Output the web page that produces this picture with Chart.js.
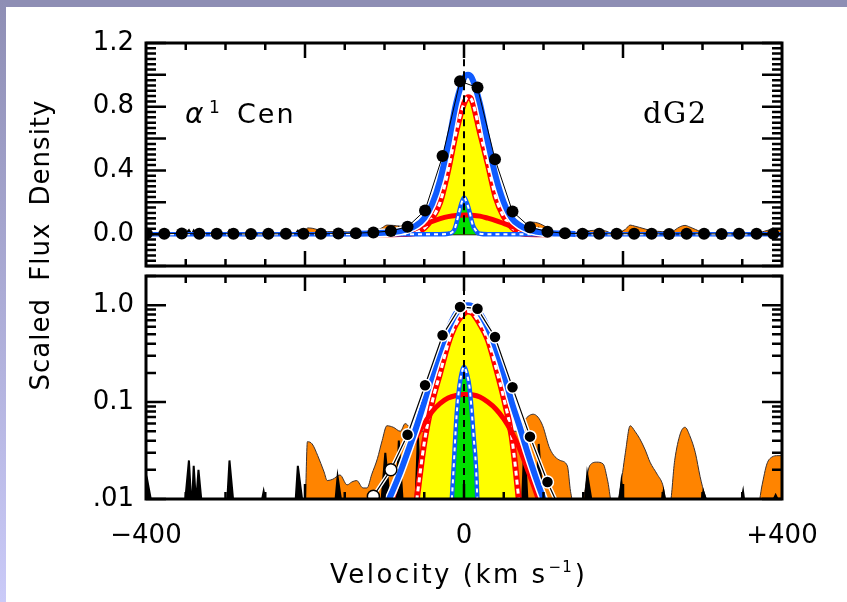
<!DOCTYPE html>
<html>
<head>
<meta charset="utf-8">
<script src="https://cdn.jsdelivr.net/npm/chart.js@4.4.0/dist/chart.umd.min.js"></script>
<style>
  html, body { margin: 0; padding: 0; }
  body { width: 847px; height: 602px; position: relative; overflow: hidden; background: #fff; }
  #topStrip { position: absolute; left: 0; top: 0; width: 847px; height: 7px; background: #8e8eb4; }
  #leftStrip { position: absolute; left: 0; top: 0; width: 6px; height: 602px; background: linear-gradient(#8e8eb4, #cacaf8); }
  canvas { position: absolute; left: 0; }
  #topPanel { top: 0; }
  #bottomPanel { top: 272px; }
  #yTitle {
    position: absolute; left: -120px; top: 230px; width: 320px; height: 30px;
    line-height: 30px; text-align: center; transform: rotate(-90deg);
    font: 26px "DejaVu Sans"; letter-spacing: 1px; word-spacing: 8px; color: #000;
  }
</style>
</head>
<body>
<div id="topStrip"></div>
<div id="leftStrip"></div>
<canvas id="topPanel" width="847" height="272"></canvas>
<canvas id="bottomPanel" width="847" height="330"></canvas>
<div id="yTitle">Scaled Flux Density</div>
<script>
(() => {
  'use strict';

  // axes
  const velocityTicks = [-400, 0, 400];
  const velocityTickLabels = ['\u2212400', '0', '+400'];
  const linearRange = [-0.2, 1.2];
  const linearTicks = [0, 0.4, 0.8, 1.2];
  const linearTickLabels = ['0.0', '0.4', '0.8', '1.2'];
  const logRange = [0.01, 2];
  const logTicks = [0.01, 0.1, 1];
  const logTickLabels = ['.01', '0.1', '1.0'];
  const restVelocity = 0;

  // binned observed profile (black dots)
  const binVelocity = [-399, -377, -355, -333, -311, -290, -268, -246, -224, -202, -180, -158, -136, -114, -92, -71, -49, -27, -5, 17,
    39, 61, 83, 105, 127, 149, 170, 192, 214, 236, 258, 280, 302, 324, 346, 368, 389];
  const binFlux = [0.004, 0.003, 0.004, 0.002, 0.003, 0.002, 0.001, 0.002, 0.002, 0.003, 0.002, 0.004, 0.006, 0.0107, 0.020, 0.046, 0.149, 0.49, 0.96, 0.92,
    0.47, 0.142, 0.044, 0.015, 0.006, 0.003, 0.002, 0.002, 0.003, 0.002, 0.001, 0.002, 0.002, 0.001, 0.002, 0.002, 0.003];
  const hollowBins = [13, 14];

  // model: total (blue), core (yellow), broad (red)
  const modelVelocity = [-140, -120, -110, -100, -90, -80, -70, -60, -50, -40, -30, -20, -10, 0, 5, 10, 20, 30, 40,
    50, 60, 70, 80, 90, 100, 110, 120, 140];
  const totalFlux = [0.001, 0.004, 0.006, 0.008, 0.012, 0.019, 0.032, 0.055, 0.1, 0.19, 0.34, 0.56, 0.82, 0.98, 1.0, 0.98, 0.82, 0.58, 0.36,
    0.2, 0.1, 0.056, 0.03, 0.017, 0.01, 0.006, 0.004, 0.001];
  const coreFlux = [0, 0, 0, 0, 0, 0.0005, 0.002, 0.009, 0.038, 0.1, 0.2, 0.4, 0.64, 0.82, 0.86, 0.84, 0.64, 0.44, 0.23,
    0.11, 0.044, 0.008, 0.001, 0, 0, 0, 0, 0];
  const broadFlux = [0.001, 0.003, 0.004, 0.006, 0.01, 0.018, 0.029, 0.044, 0.06, 0.08, 0.097, 0.11, 0.117, 0.12, 0.12, 0.119, 0.113, 0.1, 0.085,
    0.067, 0.049, 0.033, 0.02, 0.012, 0.007, 0.004, 0.003, 0.001];

  // instrumental profile (green)
  const lsfVelocity = [-400, -30, -20, -15, -12, -10, -7, -4, 0, 4, 7, 10, 12, 15, 17, 20, 30, 400];
  const lsfFlux = [0, 0, 0.003, 0.011, 0.03, 0.06, 0.12, 0.18, 0.23, 0.19, 0.14, 0.075, 0.045, 0.022, 0.009, 0.003, 0, 0];

  // comparison spectrum (orange)
  const compVelocity = [-400, -205, -200, -197, -191, -184, -176, -172, -165, -156, -147, -141, -135, -127, -122, -116, -109, -103, -97, -89,
    -80, -74, -68, -55, -40, 0, 40, 60, 68, 74, 87, 93, 99, 108, 121, 130, 134, 138, 146, 150,
    158, 167, 175, 181, 186, 192, 196, 203, 209, 215, 221, 228, 234, 243, 250, 255, 259, 265, 272, 278,
    284, 291, 297, 303, 308, 365, 369, 375, 381, 387, 395, 400];
  const compFlux = [0, 0, 0.009, 0.039, 0.037, 0.028, 0.019, 0.0155, 0.016, 0.0177, 0.014, 0.015, 0.0155, 0.013, 0.013, 0.018, 0.026, 0.04, 0.057, 0.055,
    0.05, 0.06, 0.055, 0.05, 0.05, 0.06, 0.05, 0.05, 0.05, 0.062, 0.075, 0.07, 0.057, 0.033, 0.025, 0.022, 0.012, 0, 0, 0.01,
    0.022, 0.024, 0.023, 0.015, 0, 0, 0.012, 0.03, 0.057, 0.05, 0.042, 0.032, 0.024, 0.018, 0.014, 0, 0, 0.025, 0.047, 0.055,
    0.045, 0.03, 0.017, 0.011, 0, 0, 0.008, 0.014, 0.023, 0.027, 0.028, 0.028];

  // residual spikes (black)
  const spikeStart = [-401, -351, -342, -336, -298, -255, -212, -162, -104, -85, -61, 73, 91, 152, 195, 248, 298, 348, 387];
  const spikePeak = [-398, -346, -340, -334, -295, -252, -209, -159, -99, -82, -58, 76, 94, 155, 198, 251, 301, 351, 392];
  const spikeEnd = [-393, -343, -337, -330, -290, -249, -203, -154, -93, -77, -54, 80, 99, 161, 201, 254, 306, 353, 397];
  const spikeFlux = [0.015, 0.025, 0.022, 0.02, 0.025, 0.012, 0.022, 0.017, 0.03, 0.04, 0.044, 0.04, 0.037, 0.018, 0.015, 0.012, 0.012, 0.012, 0.011];

  const BLUE = '#0f5bff';
  const logFloor = 0.009;

  Chart.defaults.font.family = '"DejaVu Sans"';
  Chart.defaults.color = '#000';

  const toPoints = (xs, ys, isLog) => xs.map((x, i) => ({x: x, y: isLog && ys[i] <= 0 ? logFloor : ys[i]}));
  const spikePoints = isLog => spikeStart.flatMap((s, i) => [
    {x: s, y: isLog ? logFloor : 0},
    {x: spikePeak[i], y: spikeFlux[i]},
    {x: spikeEnd[i], y: isLog ? logFloor : 0}
  ]);

  function panelDatasets(isLog, yRange) {
    const base = isLog ? 'start' : 'origin';
    const curve = {pointRadius: 0, fill: false, cubicInterpolationMode: 'monotone'};
    const sets = [
      {
        data: toPoints(binVelocity, binFlux, isLog), borderColor: '#000', borderWidth: isLog ? 1.2 : 1,
        tension: 0, fill: false, pointRadius: 6,
        pointBackgroundColor: c => (isLog && hollowBins.includes(c.dataIndex)) ? '#fff' : '#000',
        pointBorderColor: c => isLog ? (hollowBins.includes(c.dataIndex) ? '#000' : '#fff') : '#000',
        pointBorderWidth: isLog ? 1.5 : 0, order: 1
      },
      {
        data: [{x: restVelocity, y: isLog ? yRange[0] : 0}, {x: restVelocity, y: yRange[1]}],
        borderColor: '#000', borderWidth: 2, borderDash: [7, 5], pointRadius: 0, tension: 0, order: 3
      },
      Object.assign({}, curve, {data: toPoints(modelVelocity, totalFlux, isLog), borderColor: BLUE, borderWidth: 6, order: 4}),
      Object.assign({}, curve, {data: toPoints(modelVelocity, totalFlux, isLog), borderColor: '#fff', borderWidth: 9, order: 5}),
      Object.assign({}, curve, {data: toPoints(lsfVelocity, lsfFlux, isLog), borderColor: '#fff', borderWidth: 2, borderDash: [4, 4], order: 6}),
      Object.assign({}, curve, {data: toPoints(lsfVelocity, lsfFlux, isLog), borderColor: BLUE, borderWidth: 4.5, order: 7}),
      Object.assign({}, curve, {data: toPoints(modelVelocity, broadFlux, isLog), borderColor: '#ff0000', borderWidth: 5, order: 8}),
      Object.assign({}, curve, {data: toPoints(lsfVelocity, lsfFlux, isLog), borderWidth: 0, fill: base, backgroundColor: '#00e000', order: 9}),
      Object.assign({}, curve, {data: toPoints(modelVelocity, coreFlux, isLog), borderColor: '#fff', borderWidth: 3, borderDash: [5, 4], order: 10}),
      Object.assign({}, curve, {data: toPoints(modelVelocity, coreFlux, isLog), borderColor: '#ff0000', borderWidth: 6,
        fill: base, backgroundColor: '#ffff00', order: 11}),
      {data: spikePoints(isLog), borderColor: '#000', borderWidth: 2, backgroundColor: '#000', fill: base, pointRadius: 0, tension: 0, order: 12},
      Object.assign({}, curve, {data: toPoints(compVelocity, compFlux, isLog), borderColor: '#3a3030', borderWidth: 1,
        fill: base, backgroundColor: '#ff8400', order: 13})
    ];
    if (isLog) {
      sets.push({data: toPoints(binVelocity, binFlux, isLog), borderColor: '#fff', borderWidth: 4, pointRadius: 0, tension: 0, order: 2});
    }
    return sets;
  }

  // frame with inward ticks on all four sides
  const panelFrame = {
    id: 'panelFrame',
    afterDraw(chart, args, opts) {
      const {ctx, chartArea: a} = chart;
      const xs = chart.scales.x, ys = chart.scales.y;
      ctx.save();
      ctx.strokeStyle = '#000';
      ctx.lineWidth = 2.5;
      ctx.beginPath();
      const xTick = (v, len) => {
        const p = xs.getPixelForValue(v);
        ctx.moveTo(p, a.top); ctx.lineTo(p, a.top + len);
        ctx.moveTo(p, a.bottom); ctx.lineTo(p, a.bottom - len);
      };
      const yTick = (v, len) => {
        const p = ys.getPixelForValue(v);
        ctx.moveTo(a.left, p); ctx.lineTo(a.left + len, p);
        ctx.moveTo(a.right, p); ctx.lineTo(a.right - len, p);
      };
      opts.xMinor.forEach(v => xTick(v, 7));
      opts.xMajor.forEach(v => xTick(v, 15));
      opts.yMinor.forEach(v => yTick(v, 10));
      opts.yMajor.forEach(v => yTick(v, 20));
      ctx.stroke();
      ctx.lineWidth = 3;
      ctx.strokeRect(a.left, a.top, a.right - a.left, a.bottom - a.top);
      ctx.restore();
    }
  };

  const topLabels = {
    id: 'topLabels',
    afterDraw(chart) {
      const ctx = chart.ctx;
      ctx.save();
      ctx.fillStyle = '#000';
      ctx.textBaseline = 'alphabetic';
      ctx.font = 'italic 28px "DejaVu Sans"';
      ctx.fillText('\u03b1', 185, 123);
      ctx.font = '17px "DejaVu Sans"';
      ctx.fillText('1', 209, 113);
      ctx.font = '27px "DejaVu Sans"';
      ctx.letterSpacing = '2px';
      ctx.fillText('Cen', 237, 123);
      ctx.font = '29px "DejaVu Serif"';
      ctx.letterSpacing = '1.5px';
      ctx.fillText('dG2', 643, 123);
      ctx.restore();
    }
  };

  const bottomLabels = {
    id: 'bottomLabels',
    afterDraw(chart) {
      const ctx = chart.ctx;
      const baseY = 311;
      let x0 = 330;
      ctx.save();
      ctx.fillStyle = '#000';
      ctx.textBaseline = 'alphabetic';
      ctx.font = '26px "DejaVu Sans"';
      ctx.letterSpacing = '2.5px';
      ctx.fillText('Velocity (km s', x0, baseY);
      x0 += ctx.measureText('Velocity (km s').width;
      ctx.font = '15px "DejaVu Sans"';
      ctx.letterSpacing = '1px';
      ctx.fillText('\u22121', x0 + 1, baseY - 11);
      x0 += ctx.measureText('\u22121').width + 3;
      ctx.font = '26px "DejaVu Sans"';
      ctx.fillText(')', x0, baseY);
      ctx.restore();
    }
  };

  const xMinorTicks = [-350, -300, -250, -150, -100, -50, 50, 100, 150, 250, 300, 350];
  const xMajorTicks = [-200, 0, 200];
  const linMajor = [-0.2, 0, 0.2, 0.4, 0.6, 0.8, 1.0, 1.2];
  const linMinor = [];
  for (let i = -6; i <= 36; i++) {
    if (i % 6 !== 0) linMinor.push(i / 30);
  }
  const logMinor = [0.02, 0.03, 0.04, 0.05, 0.06, 0.07, 0.08, 0.09, 0.2, 0.3, 0.4, 0.5, 0.6, 0.7, 0.8, 0.9, 2];

  const noGrid = {grid: {display: false, drawTicks: false}, border: {display: false}};
  // fixed axis box: no extra room for the end labels
  const fixLeftAxis = s => { s.width = 146; s.paddingTop = 0; s.paddingBottom = 0; };
  const fixBottomAxis = s => { s.height = 103; s.paddingLeft = 0; s.paddingRight = 0; };

  new Chart(document.getElementById('topPanel'), {
    type: 'line',
    data: {datasets: panelDatasets(false, linearRange)},
    options: {
      responsive: false,
      animation: false,
      events: [],
      layout: {autoPadding: false, padding: {top: 43, right: 65, bottom: 6, left: 0}},
      scales: {
        x: {type: 'linear', min: -400, max: 400, display: false},
        y: Object.assign({
          type: 'linear', min: linearRange[0], max: linearRange[1],
          afterFit: fixLeftAxis,
          afterBuildTicks: s => { s.ticks = linearTicks.map(v => ({value: v})); },
          ticks: {padding: 12, font: {size: 26}, color: '#000', autoSkip: false, callback: (v, i) => linearTickLabels[i]}
        }, noGrid)
      },
      plugins: {
        legend: {display: false},
        tooltip: {enabled: false},
        panelFrame: {xMinor: xMinorTicks, xMajor: xMajorTicks, yMinor: linMinor, yMajor: linMajor}
      }
    },
    plugins: [panelFrame, topLabels]
  });

  new Chart(document.getElementById('bottomPanel'), {
    type: 'line',
    data: {datasets: panelDatasets(true, logRange)},
    options: {
      responsive: false,
      animation: false,
      events: [],
      layout: {autoPadding: false, padding: {top: 4, right: 65, bottom: 0, left: 0}},
      scales: {
        x: Object.assign({
          type: 'linear', min: -400, max: 400,
          afterFit: fixBottomAxis,
          afterBuildTicks: s => { s.ticks = velocityTicks.map(v => ({value: v})); },
          ticks: {padding: 22, font: {size: 26}, color: '#000', maxRotation: 0, autoSkip: false, callback: (v, i) => velocityTickLabels[i]}
        }, noGrid),
        y: Object.assign({
          type: 'logarithmic', min: logRange[0], max: logRange[1],
          afterFit: fixLeftAxis,
          afterBuildTicks: s => { s.ticks = logTicks.map(v => ({value: v})); },
          ticks: {padding: 12, font: {size: 26}, color: '#000', autoSkip: false, callback: (v, i) => logTickLabels[i]}
        }, noGrid)
      },
      plugins: {
        legend: {display: false},
        tooltip: {enabled: false},
        panelFrame: {xMinor: xMinorTicks, xMajor: xMajorTicks, yMinor: logMinor, yMajor: logTicks}
      }
    },
    plugins: [panelFrame, bottomLabels]
  });
})();
</script>
</body>
</html>
